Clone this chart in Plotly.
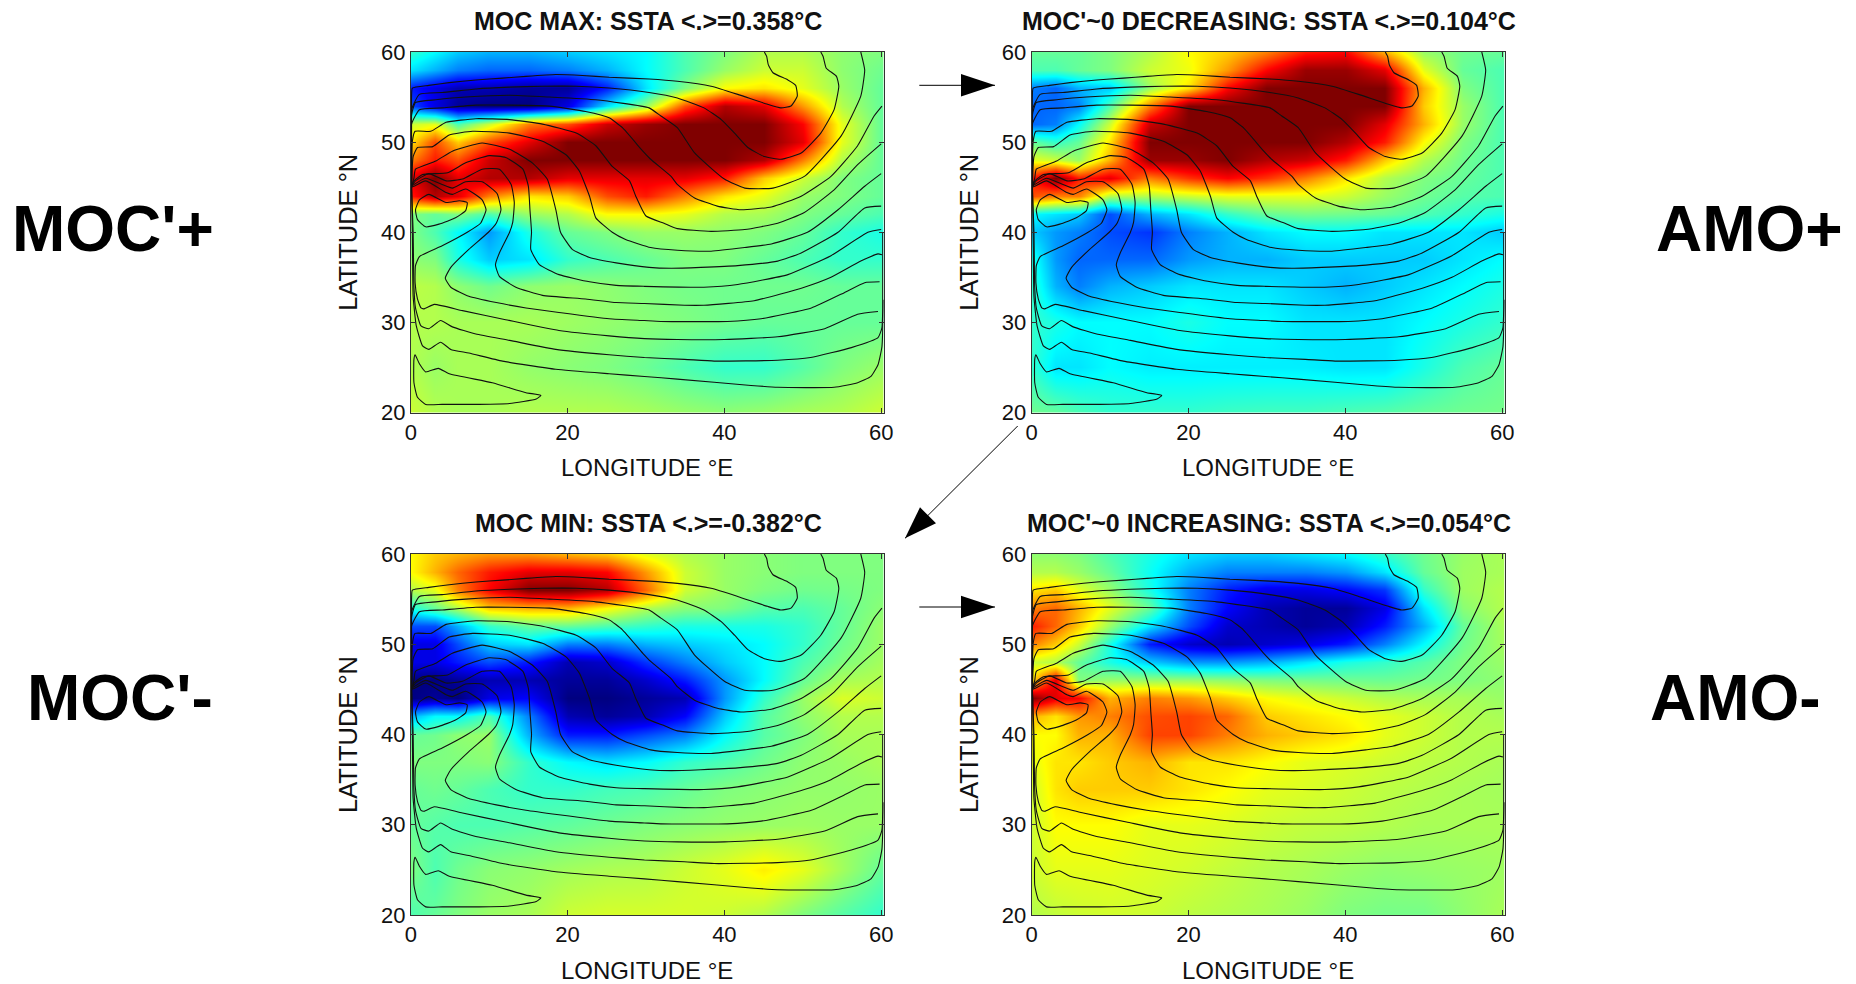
import plotly.graph_objects as go

W, H = 1856, 984
lon = [0, 3, 6, 10, 15, 20, 25, 30, 35, 40, 45, 50, 55, 60]
lat = [60, 58, 56, 54, 52, 50, 48, 46, 44, 42, 40, 37, 34, 30, 25, 20]

moc_max = [
 [-1.5,-2.5,-3.5,-4,-4,-3.5,-3,-2.5,-1,0,1,1,.3,0],
 [-3,-4,-5,-5.5,-5.5,-5,-4,-2.5,-1,.5,1.5,1.5,.3,-.3],
 [-7,-8,-9,-9,-9.5,-9.5,-7,-3,0,2.5,3,2,.5,-.5],
 [-6,-8,-9.5,-10,-10,-8,-3,.5,6,9,8,4.5,1,-.5],
 [1.5,2,-1,1.5,5,6,8.5,9.5,10,10,10,7.5,2,-.5],
 [3,6,3.5,6,8,10,10,10,10,10,10,8,2,-.5],
 [5,7,6,8.5,10,10,10,10,10,10,9,5,1,-.5],
 [8,10,8,9,9,8,8,8,8,7,3.5,1.5,0,-.5],
 [7,9,8,5,3,3.5,6,7,5,3,2,.5,0,-.5],
 [0,-.5,0,-1,.5,1,2.5,2.5,2,1,.8,0,-.5,-1],
 [0,-1,-2.5,-4.5,-2,-.5,0,.5,.5,.3,0,-.5,-1.5,-2],
 [.3,0,-2,-3.5,-3,-1.5,-1,-.5,0,0,-.5,-1,-1.5,-1.5],
 [1.2,1,.3,-.3,.3,.5,.3,0,-.2,-.3,-.3,-.3,-.5,-.5],
 [1,1,.8,.8,.8,.6,.4,.2,0,-.3,-.5,-.5,-.5,-.5],
 [1,.5,.8,.8,.4,.2,0,-.4,-1,-1.5,-1.5,-.8,0,.5],
 [1.5,1,.8,.8,1,1,1,.8,.5,.3,.5,.8,1,1.5],
]
moc_decreasing = [
 [-.5,-.5,-.5,0,1,2.5,3.5,5,7,7.5,4,.5,-.3,-.5],
 [-1,-1,-.5,0,1.5,2.2,4.5,7.5,9.5,9.5,8,2,-.5,-1],
 [-5,-5.5,-4,-3.5,.5,3,7.5,10,10,10,10,4,0,-1],
 [-5.5,-5.5,-5,-1,5,10,10,10,10,10,10,3.5,.5,-1],
 [-5.5,-5,-2.5,1.5,8.5,10,10,10,10,10,8,4,.5,-1],
 [-.5,-1.5,-.5,3,10,10,10,10,10,9,7,2.5,0,-1],
 [2,1.5,.5,4,9.5,9.5,10,9,8.5,7,3.5,1,-.3,-1],
 [7,10,7,8,5,6.5,7.5,6.5,5,3,1,0,-.5,-1],
 [6,5,5,1,1,1.5,2,2,2,1.5,.5,-.3,-.8,-1],
 [-2.5,-3,-3.5,-6,-4,-3,-1.5,-.5,-.2,-.3,-.5,-1,-1.5,-2],
 [-3.5,-4.5,-5,-6,-6.5,-5,-4,-3,-2.5,-2.5,-3,-3,-3,-3.5],
 [-2,-4.5,-5.5,-5.5,-5.5,-4.5,-4,-4,-3.5,-3.5,-3.5,-3.5,-3,-2.5],
 [-1.5,-4,-5,-4,-3.5,-3,-3,-3,-3.5,-4,-3.5,-3,-2.5,-2],
 [-1.5,-2,-2.5,-2.5,-2.5,-2,-2.5,-2.5,-3,-3,-3,-2.5,-2,-1.5],
 [-1.5,-3,-3,-2.5,-2.8,-2.8,-2.8,-2.8,-2.8,-3,-3,-2,-1,-.5],
 [-.3,-.5,-1,-1.5,-1.5,-1.5,-1.3,-1.2,-1.2,-1,-.8,-.5,-.3,-.2],
]
moc_min = [
 [2.5,3.5,4,4.5,4.5,4,3.5,2,1,.5,.2,0,0,0],
 [2.5,4,5.5,7,8,8,7.5,4.5,1.5,.5,.2,0,0,0],
 [1,2,5,7.5,10,10,9,5.5,1.5,.5,0,-.3,-.2,0],
 [-2,-.5,1,3.5,4,4,2.5,1,.2,0,-.8,-1,-.5,.2],
 [-6,-6,-4,-1.5,-.5,-.5,-1,-1.5,-2,-2,-2,-1.5,-.5,.5],
 [-8,-8,-6,-3.5,-3,-5,-5,-4,-3.5,-3,-2.5,-1.5,-.3,.5],
 [-8,-8,-7,-6,-7,-9,-8.5,-6.5,-5,-3.5,-2.5,-1,0,.7],
 [-10,-10,-9.5,-9,-9,-9.5,-9.5,-8.5,-7,-4.5,-2.5,-.5,.8,1],
 [-10,-9.5,-10,-8,-7.5,-10,-10,-9.5,-9,-4.5,-1.5,.5,1.8,1.5],
 [-4,-2.5,-2.5,-1,-5,-9,-9.5,-9,-7.5,-3.5,-.8,.3,1,1],
 [-.5,-.3,.3,.5,-4,-7,-7,-6,-5,-2.5,-.8,0,.8,.8],
 [0,0,0,.2,-1.5,-2.5,-3,-2.5,-1.5,-1,-.3,.3,.5,.8],
 [-.5,-.3,-.5,-1,-1.5,-1.5,-1.2,-1,-.5,0,.2,.4,.4,.5],
 [-.5,-.8,-1,-1,-.8,-.6,-.3,0,.2,.4,.5,.6,.5,.5],
 [0,-1,-.3,.2,.4,.7,.9,1,1.5,2,2.8,2,.7,-.5],
 [-1,-.5,0,.5,.8,1.5,1.7,1.7,1.7,1.5,1,0,-.8,-1.5],
]
moc_increasing = [
 [.3,.3,0,-1,-2,-3,-3.5,-3.5,-3,-2.5,-1.5,-.3,.5,.8],
 [1,1,.5,-.5,-2.3,-4,-5,-5,-5,-4.5,-3,-.5,.6,.8],
 [3,3.5,2,.5,-2,-5,-7,-8,-8,-7.5,-6.5,-1.5,.6,1],
 [5,5.5,4,2,-.5,-5,-7.5,-9,-9.5,-9.5,-8,-3,.2,1],
 [7,5.5,3.5,.5,-3,-6,-8.5,-9,-9.5,-9,-7,-4,-.5,.8],
 [5,3.5,1.5,-2,-7,-8.5,-9,-8.5,-8,-7,-5,-2.5,-.3,.7],
 [1.5,1,-.5,-2,-3.5,-4.5,-4.5,-4,-3,-2,-1.5,-.8,0,.5],
 [3,8,0,.5,.5,.5,.3,0,-.2,-.3,-.4,-.2,0,.3],
 [10,8,7.5,4,5,4.5,3.5,2.5,2,1.5,1,.8,.8,.5],
 [4,3,4.5,5,6,6.2,5.5,3.5,3,2.5,2,1.5,1,.8],
 [2.5,2.5,4,4,6.2,6.2,5,4,3.5,3,2,1.5,1,1],
 [2,3,3,3.5,4,3,3,2.5,2,1.8,1.5,1.2,1,.8],
 [1.5,3,3.5,3.5,3.5,3,2.5,2,1.8,1.5,1.2,1,.8,.7],
 [1.5,2.5,2.5,2.5,2,2,1.8,1.5,1.3,1.2,1,.8,.8,.8],
 [1.5,2,2,2,1.8,1.6,1.3,1,.8,.5,.3,.4,.5,.6],
 [1,1.3,1.5,1.6,1.5,1.2,1,.8,.5,0,-.2,-.2,.3,.8],
]

# Streamlines, as (longitude, latitude)
c01 = [(.1,45.1),(.1,50.7),(.1,55.1),(.2,56.0),(2.3,56.3),(4.9,56.6),(8.3,56.9),(11.7,57.1),(14.7,57.3),(18.5,57.5),(21.9,57.4),(25.3,57.2),(30.4,57.0),(34.0,56.75),(38.3,56.2),(41.7,55.3),(45.5,54.2),(47.2,53.8),(48.5,54.0),(49.3,55.1),(49.1,56.3),(48.1,56.9),(46.2,57.7),(45.6,58.6),(45.4,59.5),(45.1,60)]
c02 = [(.1,45.1),(.1,53.6),(1.1,55.3),(4.0,55.5),(8.3,55.9),(12.6,56.1),(16.8,56.2),(21.1,56.2),(25.3,56.0),(30.4,55.5),(34.0,54.9),(37.4,53.8),(39.6,52.5),(41.3,51.0),(43.0,49.4),(45.1,48.4),(47.2,48.1),(49.8,48.8),(52.3,51.0),(54.0,53.6),(54.6,56.2),(54.3,57.3),(53.0,58.2),(52.6,59.5),(52.3,60)]
c03 = [(.1,45.1),(.1,53),(.6,54.4),(3.2,54.7),(7.0,55.0),(12.6,55.2),(17.7,55.0),(23.6,54.7),(30.4,53.8),(31.9,52.9),(34,51.6),(36.2,48.8),(40,45.9),(42.6,44.9),(46.2,44.9),(50.2,46.2),(54.9,50.7),(57.4,55.1),(57.9,58.0),(57.4,60)]
c04 = [(.1,45.1),(.1,52),(1.1,53.6),(4.0,53.8),(8.3,54.1),(12.6,54.1),(17.7,54.0),(22.3,53.4),(25.3,52.7),(27.0,51.6),(29.6,49.0),(30.6,48.1),(33.2,46.2),(34,45.3),(36.2,43.8),(39.1,42.9),(42.1,42.5),(46,42.8),(49.8,44.0),(53.6,46.2),(57,49.6),(59.1,52.9),(60.1,54.0)]
c05 = [(.1,45.1),(.2,50.1),(.55,51.2),(2.55,51.2),(4.5,52.2),(8.3,52.6),(12.6,52.5),(16.8,52),(21.1,51),(23.6,49.6),(25.7,47.3),(27.9,45.7),(28.7,44),(30,41.8),(32.3,41),(34,40.4),(38.3,40.1),(42.6,40.3),(46.8,41),(50.2,42.2),(54,44.7),(57,47.5),(60,49.8)]
c06 = [(.1,45.1),(.3,48.4),(.85,49.4),(2.8,49.5),(4.9,50.8),(7.9,51.2),(12.6,51),(16.8,50.1),(19.8,48.6),(21.5,46.8),(22.8,44),(23.6,41.6),(25.7,40),(27.4,39.2),(30.6,38.3),(34,38),(38.3,37.9),(42.6,38.3),(46,38.7),(50.6,40),(54.5,42.5),(57.9,45.1),(60,46.5)]
c07 = [(.1,45.1),(.4,46),(.6,47),(3.2,47.9),(5.3,49),(9.1,49.9),(12.6,49.2),(15.5,47.7),(17.4,45.9),(18.5,42.5),(19.1,40),(20.6,38.1),(22.8,37.2),(26.2,36.6),(30.4,36.1),(33.2,36),(37,36.1),(41.7,36.3),(46.8,36.8),(49.8,37.7),(54.5,40),(57.9,42.7),(60,42.9)]
c08 = [(.1,45.1),(.4,45.7),(1.5,46.4),(4.7,46.6),(7,47.7),(10,48.5),(12.1,48.3),(14.3,47),(15,45.1),(15.2,42.5),(15.4,40),(15.3,38.1),(16.4,36.4),(18.9,35.3),(22.8,34.5),(26.2,34.1),(29.8,34),(37.4,33.9),(41.7,34.2),(48.1,35.3),(53.6,37.4),(58.3,40),(60,40.3)]
c09 = [(.1,45.1),(.6,45.7),(2.3,46.5),(4.5,45.7),(6.6,45.9),(9.1,47),(11.3,47),(12.8,45.3),(13.2,43.3),(13,41.1),(12.6,40),(11.3,37.7),(10.8,36.4),(11.3,35.1),(13.4,33.9),(16.8,33),(22.3,32.6),(26.2,32.2),(29.8,32.1),(34.9,31.9),(37.4,31.9),(43.8,32.4),(50.2,33.9),(53.6,35),(57.4,36.8),(59.6,37.6),(60.1,37.5)]
c10 = [(.1,45.1),(.4,45.3),(1.9,46),(4,45.3),(5.3,44.9),(7,45.6),(9.1,45.6),(11,44.3),(11.5,42.5),(10.9,41),(9.9,40),(7.4,38.1),(5.1,36.1),(4.4,34.9),(5.1,33.9),(7.4,32.9),(10.9,32.2),(14.7,31.6),(18.9,31.1),(25.3,30.4),(29.8,30.2),(31.9,30.1),(40.4,30.1),(44.7,30.4),(51.1,31.6),(55.3,33.3),(57.9,34.4),(59.8,34.5)]
c11 = [(.1,45),(.4,45.1),(1.9,45.7),(4.5,44.4),(5.3,44.2),(7,44.8),(9.1,43.6),(9.6,42.5),(8.9,41),(7.2,40),(4,38.5),(1.1,37.3),(.6,36.3),(.55,34.4),(.85,32.6),(1.3,31.6),(1.7,31.5),(3,32),(6.6,31.3),(12.1,30.3),(18.9,29.1),(25.3,28.5),(29.8,28.2),(34,28.1),(40,28.1),(46.8,28.4),(52.8,29.3),(57,30.9),(59.6,31.2)]
c12 = [(.1,45.1),(.3,40),(.4,33.9),(.6,31.6),(1.3,29.6),(2.3,29.3),(3.8,30.2),(5.3,29.5),(8.3,28.7),(12.6,28),(18.5,27),(25.3,26.4),(29.8,26.1),(34.9,25.9),(38.7,25.7),(46.8,25.8),(51,26.1),(56.2,27.2),(59.6,28.3),(60.1,29.4),(60.2,31.5),(60.2,40)]
c13 = [(.1,45.1),(.2,40),(.3,32.9),(.7,29.6),(1.5,27.4),(2.3,27),(3.8,27.8),(5.1,27),(7.4,26.6),(11.7,25.7),(18.5,24.8),(25.3,24.3),(29.8,24),(34,23.7),(43.4,23),(46.8,22.8),(54,22.8),(57,23.3),(58.7,24),(59.6,25.3),(60.1,27.3),(60.3,32.5)]
c14 = [(.55,26.4),(1.1,25.4),(1.9,24.5),(3.5,24.9),(4.9,24.3),(10.4,23.3),(14.7,22.2),(16.6,21.9),(16,21.5),(12.6,21),(8.7,20.9),(4,20.9),(1.9,20.9),(.85,21.7),(.4,23.3),(.4,25.9),(.55,26.4)]
c15 = [(.6,42.5),(1.1,43.6),(2.3,44.2),(4.5,43.3),(6.2,43.5),(7.2,43.3),(7,42.4),(5.7,41.6),(3.6,40.9),(1.9,40.6),(.85,41.4),(.6,42.5)]
streamlines = [c01, c02, c03, c04, c05, c06, c07, c08, c09, c10, c11, c12, c13, c14, c15]

titles = ["MOC MAX: SSTA &lt;.&gt;=0.358°C", "MOC'~0 DECREASING: SSTA &lt;.&gt;=0.104°C",
          "MOC MIN: SSTA &lt;.&gt;=-0.382°C", "MOC'~0 INCREASING: SSTA &lt;.&gt;=0.054°C"]
fields = [moc_max, moc_decreasing, moc_min, moc_increasing]
x_ticks = [0, 20, 40, 60]
y_ticks = [20, 30, 40, 50, 60]
side_labels = ["MOC'+", "AMO+", "MOC'-", "AMO-"]

JET = [[0, "#000080"], [.125, "#0000ff"], [.375, "#00ffff"], [.625, "#ffff00"], [.875, "#ff0000"], [1, "#800000"]]
PANELS = [(410.8, 883.5, 52, 412.5), (1031.6, 1504.5, 52, 412.5), (410.8, 883.5, 554, 915), (1031.6, 1504.5, 554, 915)]

def px(x): return x / W
def py(y): return 1 - y / H

line_x, line_y = [], []
for s in streamlines:
    line_x += [p[0] for p in s] + [None]
    line_y += [p[1] for p in s] + [None]

fig = go.Figure()
annotations, shapes = [], []
TEXT = "Liberation Sans"
for i, (z, t, (l, r, top, bot)) in enumerate(zip(fields, titles, PANELS)):
    n = "" if i == 0 else str(i + 1)
    fig.add_trace(go.Heatmap(x=lon, y=lat[::-1], z=z[::-1], zmin=-10, zmax=10, colorscale=JET,
                             zsmooth="best", showscale=False, xaxis="x" + n, yaxis="y" + n))
    fig.add_trace(go.Scatter(x=line_x, y=line_y, mode="lines", showlegend=False,
                             line=dict(color="#111", width=1.1, shape="spline", smoothing=0.45),
                             xaxis="x" + n, yaxis="y" + n))
    common = dict(showgrid=False, zeroline=False, showline=True, linecolor="#333", linewidth=1,
                  mirror="allticks", ticks="inside", ticklen=5, tickcolor="#333", automargin=False,
                  tickfont=dict(family=TEXT, size=22, color="#111"))
    fig.update_layout({
        "xaxis" + n: dict(common, domain=[px(l), px(r)], range=[0, 60.3], tickvals=x_ticks, anchor="y" + n,
                          title=dict(text="LONGITUDE °E", font=dict(family=TEXT, size=24, color="#111"))),
        "yaxis" + n: dict(common, domain=[py(bot), py(top)], range=[20, 60], tickvals=y_ticks, anchor="x" + n,
                          title=dict(text="LATITUDE °N", font=dict(family=TEXT, size=25.5, color="#111"))),
    })
    annotations.append(dict(text="<b>%s</b>" % t, xref="paper", yref="paper", x=px((l + r) / 2 + 1), y=py(top - 31),
                            showarrow=False, xanchor="center", yanchor="middle",
                            font=dict(family=TEXT, size=25, color="#111")))

for text, cx, cy in zip(side_labels, [112.5, 1749.5, 120, 1735], [229, 229, 698, 698]):
    annotations.append(dict(text="<b>%s</b>" % text, xref="paper", yref="paper", x=px(cx), y=py(cy),
                            showarrow=False, xanchor="center", yanchor="middle",
                            font=dict(family=TEXT, size=64, color="black")))

def arrow(x0, y0, tip, a, b):
    shapes.append(dict(type="line", xref="paper", yref="paper", x0=px(x0), y0=py(y0), x1=px(tip[0]), y1=py(tip[1]),
                       line=dict(color="black", width=1)))
    path = "M %f %f L %f %f L %f %f Z" % (px(tip[0]), py(tip[1]), px(a[0]), py(a[1]), px(b[0]), py(b[1]))
    shapes.append(dict(type="path", xref="paper", yref="paper", path=path, fillcolor="black", line=dict(width=0)))

arrow(919.3, 85.3, (995, 85.3), (961, 74), (961, 96.6))
arrow(919.3, 607, (995, 607), (961, 595.7), (961, 618.3))
arrow(1017.7, 426, (905, 538.3), (920, 507.3), (936, 523.3))

fig.update_layout(width=W, height=H, margin=dict(l=0, r=0, t=0, b=0, autoexpand=False), paper_bgcolor="white",
                  plot_bgcolor="white", showlegend=False, annotations=annotations, shapes=shapes)
fig.write_html("out.html", config={"displayModeBar": False}, post_script="document.body.style.margin='0';")
